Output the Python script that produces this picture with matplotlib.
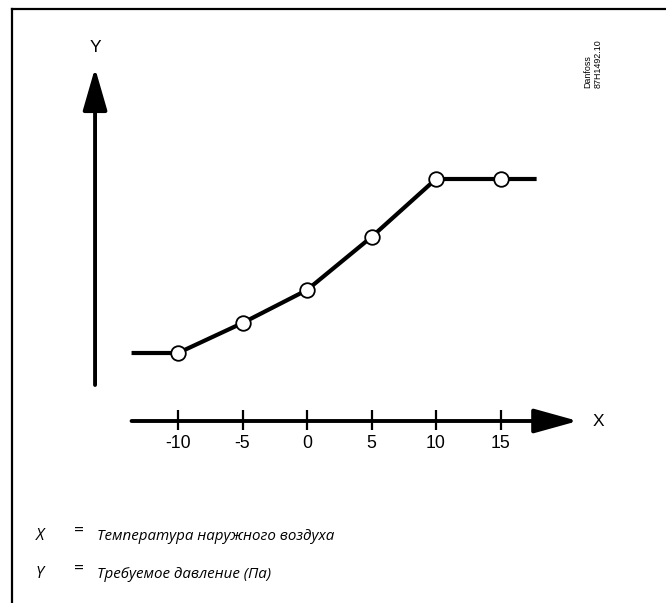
import matplotlib.pyplot as plt
from matplotlib.lines import Line2D

# data (y in arbitrary units)
temps = [-10, -5, 0, 5, 10, 15]
pressure = [6.8, 9.8, 13.1, 18.4, 24.2, 24.2]
x_start, x_end = -13.6, 17.8
tick_labels = ["-10", "-5", "0", "5", "10", "15"]
legend_keys = ["X", "Y"]
legend_texts = ["Температура наружного воздуха", "Требуемое давление (Па)"]

W, H = 666, 603
fig = plt.figure(figsize=(W / 100, H / 100), dpi=100)
ax = fig.add_axes([0, 0, 1, 1])
ax.set_xlim(-307 / 12.9, (W - 307) / 12.9)
ax.set_ylim((421 - H) / 10, 421 / 10)
ax.axis("off")

num_font = "Liberation Sans"

# frame
fig.add_artist(Line2D([12 / W, 12 / W], [0, 1 - 9 / H], color="black", lw=1.6))
fig.add_artist(Line2D([12 / W, 1], [1 - 9 / H, 1 - 9 / H], color="black", lw=1.6))

# y axis arrow
y_ax_x = -16.43
ax.annotate("", xy=(y_ax_x, 35.3), xytext=(y_ax_x, 3.6),
            arrowprops=dict(arrowstyle="-|>,head_length=26,head_width=7.5",
                            mutation_scale=1, lw=2.8, color="black",
                            shrinkA=0, shrinkB=0))
ax.text(y_ax_x, 37.4, "Y", ha="center", va="center", fontsize=12.5, family=num_font)

# x axis arrow
ax.annotate("", xy=(21.0, 0), xytext=(x_start, 0),
            arrowprops=dict(arrowstyle="-|>,head_length=27,head_width=7.5",
                            mutation_scale=1, lw=2.8, color="black",
                            shrinkA=0, shrinkB=0))
ax.text(22.6, 0, "X", ha="center", va="center", fontsize=12.5, family=num_font)
ax.vlines(temps, -0.9, 1.1, color="black", lw=1.6)
for t, lab in zip(temps, tick_labels):
    ax.text(t, -2.2, lab, ha="center", va="center", fontsize=12.7, family=num_font)

# curve
xs = [x_start] + temps + [x_end]
ys = [pressure[0]] + pressure + [pressure[-1]]
ax.plot(xs, ys, color="black", lw=3, solid_capstyle="butt", zorder=3)
ax.plot(temps, pressure, "o", ms=10.5, mfc="white", mec="black", mew=1.3, zorder=4)

# drawing id
fig.text(588 / W, 1 - 88 / H, "Danfoss", rotation=90, ha="center", va="bottom",
         fontsize=6.4, family=num_font)
fig.text(598 / W, 1 - 88 / H, "87H1492.10", rotation=90, ha="center", va="bottom",
         fontsize=6.4, family=num_font)

# legend
for i, (k, t) in enumerate(zip(legend_keys, legend_texts)):
    yy = 1 - (536 + 38 * i) / H
    fig.text(36 / W, yy, k, ha="left", va="center", fontsize=11.5,
             family="Open Sans", style="italic")
    fig.text(74 / W, yy + 4 / H, "=", ha="left", va="center", fontsize=12.5,
             family="Open Sans")
    fig.text(97 / W, yy, t, ha="left", va="center", fontsize=10.9,
             family="Open Sans", style="italic")

fig.savefig("out.png", dpi=100)
